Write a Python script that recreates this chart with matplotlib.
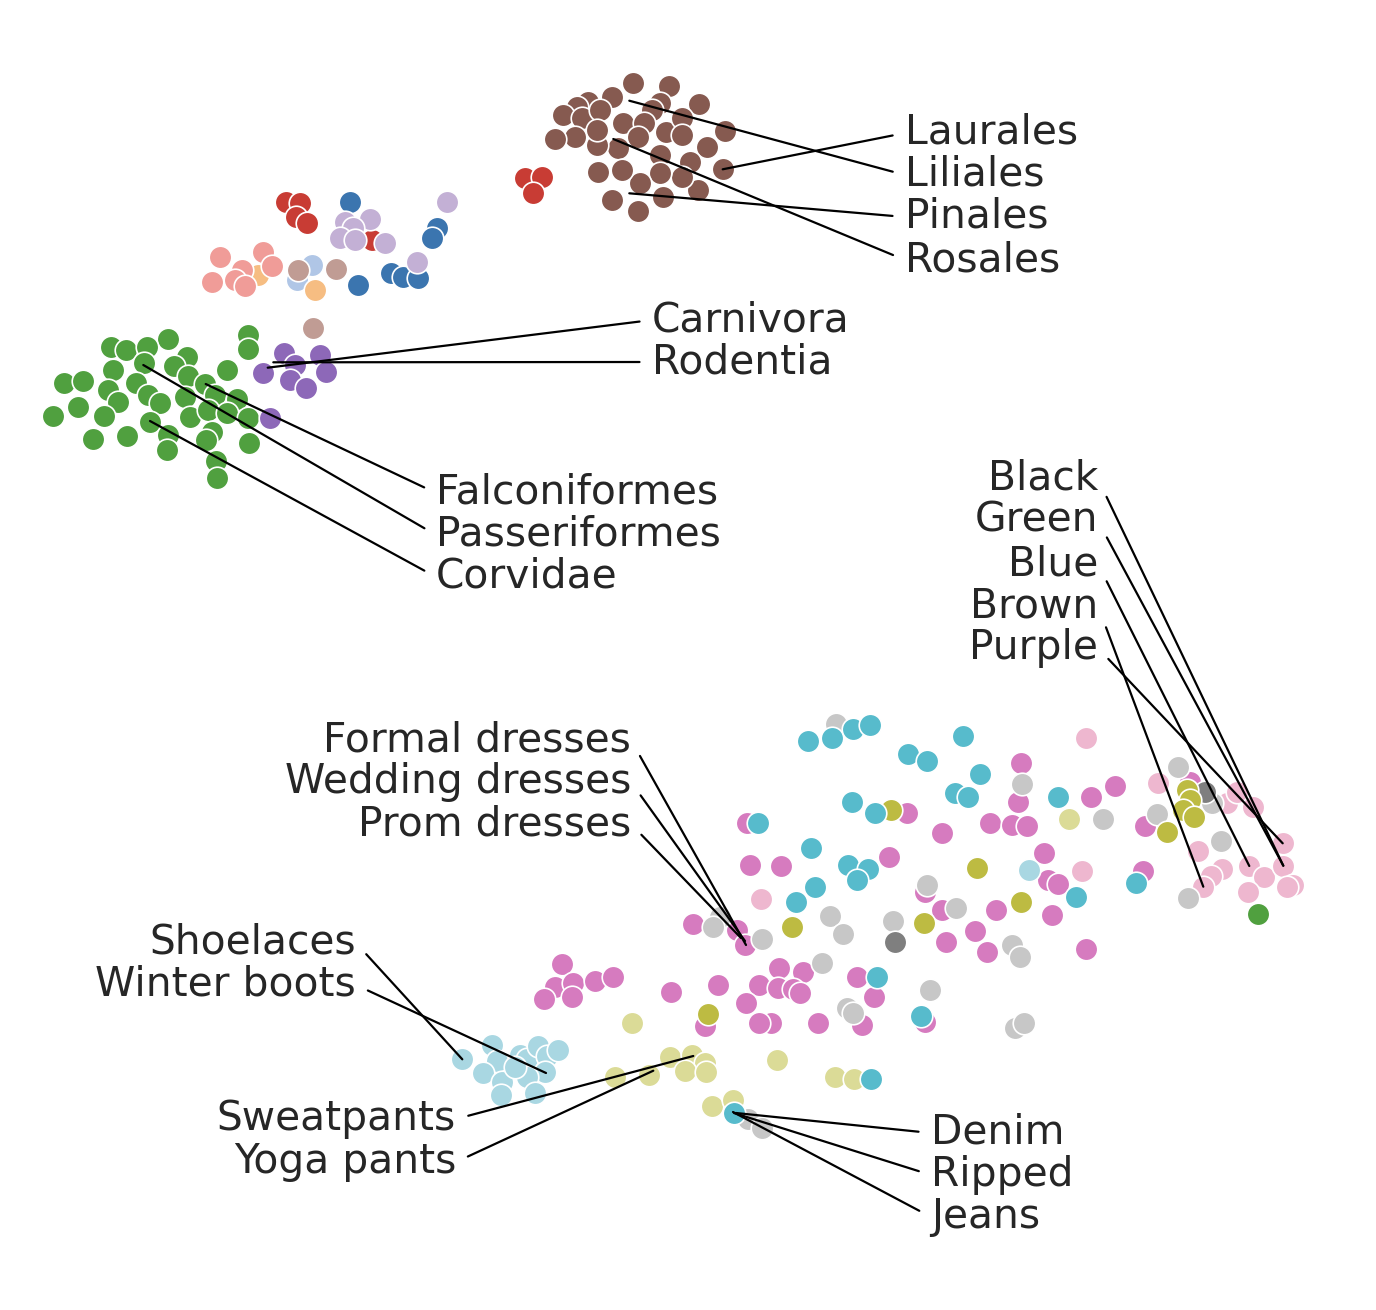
import matplotlib.pyplot as plt

# point positions (x right, y down, in image pixels)
brown = [(632.7, 82.7), (669, 86), (611.7, 97.3), (699, 104), (660, 103), (588, 102),
         (577, 107), (563, 115), (582, 118), (600, 110), (651.7, 110), (622.7, 123.3),
         (644.3, 123.3), (665.7, 131.7), (681.7, 118.3), (681.7, 135), (706.7, 147.3),
         (690, 161.7), (660, 155), (638.3, 136.7), (618.3, 148.3), (596.7, 145),
         (596.7, 130), (575, 136.7), (555, 139), (725, 130.7), (722.7, 169.3),
         (698.3, 190), (681.7, 176.7), (660, 173.3), (640, 183.3), (621.7, 170),
         (598.3, 171.7), (611.7, 200), (638.3, 210.7), (663.3, 197.3)]
red = [(525, 178.3), (541.7, 177.3), (533.3, 192.7),
       (286, 201.7), (300, 203.3), (296, 216.7), (307.3, 223.3), (371.7, 240)]
blue = [(350, 201.7), (437.3, 228.3), (431.7, 238.3), (391, 272.7), (403.3, 276.7),
        (418.3, 278.3), (358.3, 285)]
light_purple = [(446.7, 201.7), (370, 219.3), (345, 221.7), (353.3, 228.3), (340, 238.3),
                (355, 240), (385, 243.3), (416.7, 261.7)]
salmon = [(220, 257.3), (263.3, 251.7), (271.7, 266), (241.7, 270), (211.7, 281.7),
          (235, 280), (245, 286)]
light_orange = [(258.3, 275), (315, 290)]
light_blue = [(311.7, 265), (296.7, 280)]
light_brown = [(298.3, 270), (335.7, 269.3), (312.7, 328.3)]
green = [(248.3, 335), (248.3, 349.3), (167.7, 339.3), (111, 346.7), (126, 350),
         (147.3, 346.7), (186.7, 356.7), (144.3, 363.3), (174, 366), (112.7, 370),
         (226.7, 370), (64.3, 383.3), (83.3, 380.7), (136, 383.3), (188.3, 376),
         (205, 384), (108.3, 390), (118.3, 401.7), (78.3, 407.3), (104, 416),
         (53.3, 416), (148.3, 395), (160, 403.3), (185, 396.7), (215, 395),
         (236.7, 399.3), (190, 416.7), (208.3, 410), (226.7, 413.3), (248.3, 418.3),
         (150, 421.7), (168.3, 435), (166.7, 450), (211.7, 431.7), (206, 440),
         (249, 442.7), (93.3, 439.3), (126.7, 436), (216, 460.7), (216.7, 478.3)]
purple = [(284, 353.3), (320, 355), (295, 365), (263.3, 373.3), (290, 380), (326, 371.7),
          (306, 388.3), (270, 418.3)]
light_pink = [(760.7, 899.3), (1085.7, 738.3), (1082.3, 870.7), (1158.3, 783.3),
              (1226.7, 803.3), (1236.7, 791.7), (1253.3, 807.3), (1198.3, 850.7),
              (1221.7, 869), (1211, 876), (1203.3, 886.7), (1249.3, 866), (1264, 877.3),
              (1248.3, 891.7), (1282.7, 843.3), (1283.3, 865.7), (1292.7, 885),
              (1286.7, 886.7)]
pink = [(906.7, 813.3), (990, 823.3), (941.7, 833.3), (750, 865), (781, 865.7),
        (889.3, 856.7), (746.7, 823.3), (692.7, 924.3), (736.7, 930), (745, 945),
        (925, 891.7), (941.7, 910), (996, 910), (975, 930.7), (945.7, 942.3),
        (986.7, 951.7), (1020.7, 763.3), (1018.3, 801.7), (1091, 797.3), (1115, 785.7),
        (1011.7, 825), (1026.7, 825.7), (1044.3, 852.7), (1048.3, 880), (1058.3, 884),
        (1051.7, 915), (1085.7, 949.3), (1142.7, 870.7), (1190, 781.7), (1145, 826),
        (561.7, 964), (555, 986.7), (573.3, 983.3), (571.7, 996.7), (544, 999.3),
        (595, 980.7), (612.7, 977.3), (670.7, 992), (718.3, 985), (779, 968.3),
        (803.3, 971.7), (759.3, 985), (778.3, 988.3), (793.3, 989.3), (800, 993.3),
        (746, 1002.7), (770.7, 1022.7), (759.3, 1023.3), (705, 1026), (817.7, 1023.3),
        (856.7, 977.3), (874.3, 997.3), (861.7, 1025), (925, 1021.7)]
light_gray = [(836, 724), (927.3, 885), (956, 908.3), (830, 915.7), (843.3, 934.3),
              (893.3, 921), (761.7, 939.3), (720, 916.7), (713.3, 926.7), (821.7, 962.7),
              (1022.3, 784), (1102.7, 819.3), (1011.7, 945), (1020, 957.3),
              (1177.7, 767.3), (1156.7, 814.3), (1211.7, 803.3), (1221, 840.7),
              (1187.7, 898.3), (846.7, 1008.3), (853.3, 1013.3), (930, 990),
              (1015, 1028.3), (1024, 1022.7), (748.3, 1119.3), (761.7, 1128.3)]
gray = [(895, 942.3), (1205, 791.7)]
light_olive = [(1069.3, 819), (632.3, 1022.7), (615, 1076.7), (649.3, 1075), (670, 1057.3),
               (691.7, 1055), (705, 1063.3), (685, 1071), (705.7, 1071.7), (776.7, 1060),
               (835, 1076.7), (854, 1079.3), (711.7, 1106), (732.7, 1100)]
olive = [(890.7, 810), (976.7, 868.3), (792.3, 926.7), (924.3, 922.7), (1020.7, 901.7),
         (1186.7, 790), (1190, 800), (1183.3, 810), (1194, 816.7), (1167.3, 832.3),
         (708.3, 1014)]
light_cyan = [(1029.3, 870), (462.3, 1059.3), (491.7, 1045), (496.7, 1060.7),
              (483.3, 1072.7), (502.3, 1081.7), (501, 1095), (520, 1055), (526.7, 1059.3),
              (538.3, 1046), (546.7, 1056), (558.3, 1050), (545, 1071.7), (527.3, 1076.7),
              (535, 1093.3), (515, 1066.7)]
cyan = [(808.3, 740.7), (831.7, 738.3), (853.3, 729.3), (870, 725), (962.7, 736),
        (908.3, 754), (927.3, 760.7), (980, 774), (955, 792.7), (968.3, 797.3),
        (851.7, 801.7), (875.3, 812.7), (758.3, 823.3), (811, 847.7), (848.3, 865),
        (868.3, 869), (856.7, 880), (815, 886.7), (795.7, 902.3), (1058.3, 797.3),
        (1076, 896.7), (1135.7, 883.3), (877.3, 976.7), (921, 1015.7), (870.7, 1079.3),
        (734, 1112.7)]
green_dot = [(1258.3, 914.3)]

# labels: text, text anchor, side, point the line goes to
labels = ["Laurales", "Liliales", "Pinales", "Rosales",
          "Carnivora", "Rodentia",
          "Falconiformes", "Passeriformes", "Corvidae",
          "Black", "Green", "Blue", "Brown", "Purple",
          "Formal dresses", "Wedding dresses", "Prom dresses",
          "Shoelaces", "Winter boots",
          "Sweatpants", "Yoga pants",
          "Denim", "Ripped", "Jeans"]
label_xy = [(905, 133), (905, 175), (905, 217), (905, 260),
            (652, 320), (652, 362),
            (436, 493), (436, 535), (436, 577),
            (1098, 479), (1098, 521), (1098, 564), (1098, 606), (1098, 648),
            (631, 740), (631, 782), (631, 824),
            (356, 943), (356, 985),
            (456, 1119), (456, 1162),
            (931, 1133), (931, 1175), (931, 1217)]
label_side = ["left"] * 9 + ["right"] * 12 + ["left"] * 3
label_target = [(722.7, 169.3), (629.3, 100.7), (629.3, 193.3), (613.3, 139),
                (267.7, 367.7), (273.3, 362.3),
                (205.7, 384), (143.3, 365), (150, 421),
                (1283.3, 865.7), (1283.3, 865.7), (1249.3, 866), (1203.3, 886.7), (1282.7, 843.3),
                (746, 945), (745, 941), (741, 938),
                (462.3, 1059.3), (546, 1073),
                (693.3, 1056), (653.3, 1070.7),
                (736, 1113), (734, 1113), (733, 1112)]

groups = [
    (brown, "#865a50"), (red, "#c83c34"),
    (light_blue, "#b0c6e6"), (light_orange, "#f6bd82"), (salmon, "#f09c98"),
    (light_brown, "#c09c94"), (blue, "#3b75af"), (light_purple, "#c3b0d5"),
    (green, "#50a03f"), (purple, "#8d68b8"),
    (light_pink, "#eeb7cf"), (pink, "#d67bbf"), (light_gray, "#c7c7c7"),
    (gray, "#7f7f7f"), (light_olive, "#dbdb97"), (olive, "#bdbb42"),
    (light_cyan, "#a9d7e2"), (cyan, "#57bbcc"), (green_dot, "#50a03f"),
]

fig = plt.figure(figsize=(6.88, 6.55), dpi=200)
ax = fig.add_axes([0, 0, 1, 1])
ax.set_xlim(0, 1376)
ax.set_ylim(1310, 0)
ax.axis("off")

for pts, col in groups:
    xs = [p[0] for p in pts]
    ys = [p[1] for p in pts]
    ax.scatter(xs, ys, s=66, c=col, edgecolors="white", linewidths=0.6, zorder=2)

for text, (tx, ty), side, target in zip(labels, label_xy, label_side, label_target):
    ax.annotate(text, xy=target, xytext=(tx, ty), ha=side, va="center",
                fontsize=14.7, color="#262626", family="DejaVu Sans",
                arrowprops=dict(arrowstyle="-", color="black", lw=0.8,
                                shrinkA=2.5, shrinkB=0,
                                relpos=(0 if side == "left" else 1, 0.5)),
                zorder=3)

fig.savefig("out.png", dpi=200)
